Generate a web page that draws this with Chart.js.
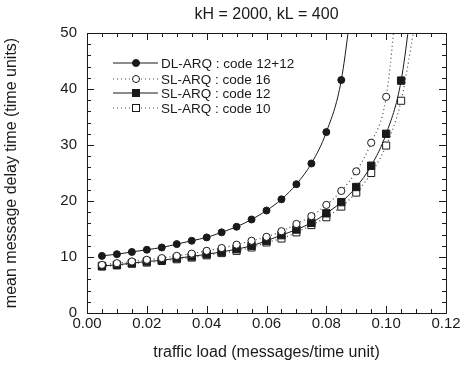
<!DOCTYPE html>
<html>
<head>
<meta charset="utf-8">
<script src="https://cdn.jsdelivr.net/npm/chart.js@4"></script>
<style>
  html, body { margin: 0; padding: 0; background: #fff; }
  #wrap { width: 466px; height: 367px; }
</style>
</head>
<body>
<div id="wrap"><canvas id="myChart" width="466" height="367"></canvas></div>
<script>
const titleText = 'kH = 2000, kL = 400'
const xTitle = 'traffic load (messages/time unit)'
const yTitle = 'mean message delay time (time units)'

// traffic load values (x)
const loadDL = [0.005, 0.01, 0.015, 0.02, 0.025, 0.03, 0.035, 0.04, 0.045, 0.05, 0.055, 0.06, 0.065, 0.07, 0.075, 0.08, 0.085, 0.09]
const loadSL16 = [0.005, 0.01, 0.015, 0.02, 0.025, 0.03, 0.035, 0.04, 0.045, 0.05, 0.055, 0.06, 0.065, 0.07, 0.075, 0.08, 0.085, 0.09, 0.095, 0.10, 0.105]
const loadSL12 = [0.005, 0.01, 0.015, 0.02, 0.025, 0.03, 0.035, 0.04, 0.045, 0.05, 0.055, 0.06, 0.065, 0.07, 0.075, 0.08, 0.085, 0.09, 0.095, 0.10, 0.105, 0.11]
const loadSL10 = [0.005, 0.01, 0.015, 0.02, 0.025, 0.03, 0.035, 0.04, 0.045, 0.05, 0.055, 0.06, 0.065, 0.07, 0.075, 0.08, 0.085, 0.09, 0.095, 0.10, 0.105, 0.11]

// mean delay (y); the last value of each runs off the top of the plot
const delayDL = [10.2, 10.5, 10.9, 11.3, 11.7, 12.3, 12.9, 13.5, 14.4, 15.4, 16.7, 18.3, 20.3, 23.0, 26.7, 32.3, 41.6, 62]
const delaySL16 = [8.6, 8.9, 9.2, 9.5, 9.8, 10.2, 10.6, 11.1, 11.6, 12.2, 12.9, 13.6, 14.6, 15.9, 17.3, 19.3, 21.8, 25.3, 30.4, 38.6, 64]
const delaySL12 = [8.4, 8.6, 8.9, 9.2, 9.4, 9.8, 10.1, 10.5, 10.9, 11.4, 12.0, 12.9, 13.9, 14.9, 16.1, 17.8, 19.8, 22.5, 26.3, 32.0, 41.5, 62]
const delaySL10 = [8.3, 8.5, 8.8, 9.0, 9.3, 9.6, 9.9, 10.3, 10.7, 11.1, 11.7, 12.6, 13.3, 14.4, 15.7, 17.1, 19.0, 21.5, 25.0, 29.9, 37.9, 53]

const seriesNames = ['DL-ARQ : code 12+12', 'SL-ARQ : code 16', 'SL-ARQ : code 12', 'SL-ARQ : code 10']

const xTicks = [0, 0.02, 0.04, 0.06, 0.08, 0.10, 0.12]
const yTicks = [0, 10, 20, 30, 40, 50]

const ink = '#1a1a1a'
const font = "'Liberation Sans', Arial, Helvetica, sans-serif"

function toPoints(xs, ys) {
  return xs.map((x, i) => ({ x: x, y: ys[i] }))
}

// hide markers on the off-scale tail points
const markerSize = (r) => (c) => (c.raw && c.raw.y > 50 ? 0 : r)

const datasets = [
  {
    label: seriesNames[0],
    data: toPoints(loadDL, delayDL),
    borderColor: ink, borderWidth: 1,
    pointStyle: 'circle', pointRadius: markerSize(3.5),
    pointBackgroundColor: ink, pointBorderColor: ink, pointBorderWidth: 1
  },
  {
    label: seriesNames[1],
    data: toPoints(loadSL16, delaySL16),
    borderColor: '#444', borderWidth: 1.2, borderDash: [1, 3],
    pointStyle: 'circle', pointRadius: markerSize(3.6),
    pointBackgroundColor: '#fff', pointBorderColor: ink, pointBorderWidth: 1
  },
  {
    label: seriesNames[2],
    data: toPoints(loadSL12, delaySL12),
    borderColor: ink, borderWidth: 1,
    pointStyle: 'rect', pointRadius: markerSize(5.2),
    pointBackgroundColor: ink, pointBorderColor: ink, pointBorderWidth: 1
  },
  {
    label: seriesNames[3],
    data: toPoints(loadSL10, delaySL10),
    borderColor: '#444', borderWidth: 1.2, borderDash: [1, 3],
    pointStyle: 'rect', pointRadius: markerSize(5),
    pointBackgroundColor: '#fff', pointBorderColor: ink, pointBorderWidth: 1
  }
]

// frame, inward ticks, title and legend
const framePlugin = {
  id: 'frame',
  afterDraw(chart) {
    const c = chart.ctx
    const a = chart.chartArea
    const xs = chart.scales.x
    const ys = chart.scales.y
    c.save()
    c.strokeStyle = ink
    c.lineWidth = 1
    c.strokeRect(a.left + 0.5, a.top + 0.5, a.right - a.left, a.bottom - a.top)

    c.beginPath()
    for (let i = 0; i <= 24; i++) {
      const v = i * 0.005
      const px = Math.round(xs.getPixelForValue(v)) + 0.5
      const len = i % 4 === 0 ? 7 : 4
      c.moveTo(px, a.bottom); c.lineTo(px, a.bottom - len)
      c.moveTo(px, a.top); c.lineTo(px, a.top + len)
    }
    for (let i = 0; i <= 25; i++) {
      const v = i * 2
      const py = Math.round(ys.getPixelForValue(v)) + 0.5
      const len = i % 5 === 0 ? 7 : 4
      c.moveTo(a.left, py); c.lineTo(a.left + len, py)
      c.moveTo(a.right, py); c.lineTo(a.right - len, py)
    }
    c.stroke()

    // title over the plot
    c.fillStyle = ink
    c.font = '16px ' + font
    c.textAlign = 'center'
    c.textBaseline = 'middle'
    c.fillText(titleText, (a.left + a.right) / 2, 15)

    // legend
    const rowY = [63, 79, 93, 108]
    c.font = '13.5px ' + font
    c.textAlign = 'left'
    datasets.forEach((ds, i) => {
      const y = rowY[i]
      c.beginPath()
      c.strokeStyle = ds.borderColor
      c.lineWidth = ds.borderWidth
      c.setLineDash(ds.borderDash || [])
      c.moveTo(113, y); c.lineTo(158, y)
      c.stroke()
      c.setLineDash([])
      c.lineWidth = 1
      c.strokeStyle = ink
      c.fillStyle = ds.pointBackgroundColor
      if (ds.pointStyle === 'circle') {
        c.beginPath(); c.arc(136, y, 3.5, 0, Math.PI * 2); c.fill(); c.stroke()
      } else {
        c.fillRect(132, y - 3.5, 7, 7); c.strokeRect(132.5, y - 3.5, 7, 7)
      }
      c.fillStyle = ink
      c.fillText(ds.label, 161, y + 1)
    })
    c.restore()
  }
}

const ctx = document.getElementById('myChart')

const myChart = new Chart(ctx, {
  type: 'line',
  data: { datasets: datasets },
  options: {
    responsive: false,
    animation: false,
    devicePixelRatio: 1,
    layout: { padding: { top: 33, right: 20, left: 0, bottom: 0 } },
    elements: { line: { cubicInterpolationMode: 'monotone' } },
    plugins: {
      legend: { display: false },
      tooltip: { enabled: false },
      title: { display: false }
    },
    scales: {
      x: {
        type: 'linear',
        min: 0, max: 0.12,
        afterBuildTicks: (s) => { s.ticks = xTicks.map(v => ({ value: v })) },
        afterFit: (s) => { s.height = 54 },
        grid: { display: false, drawTicks: false },
        border: { display: false },
        ticks: {
          color: ink, padding: 2,
          font: { family: font, size: 15 },
          callback: (v) => Number(v).toFixed(2)
        },
        title: {
          display: true, text: xTitle, color: ink,
          font: { family: font, size: 16 },
          padding: { top: 0, bottom: 5 }
        }
      },
      y: {
        min: 0, max: 50,
        afterBuildTicks: (s) => { s.ticks = yTicks.map(v => ({ value: v })) },
        afterFit: (s) => { s.width = 87 },
        grid: { display: false, drawTicks: false },
        border: { display: false },
        ticks: {
          color: ink, padding: 10,
          font: { family: font, size: 15 }
        },
        title: {
          display: true, text: yTitle, color: ink,
          font: { family: font, size: 16 },
          padding: { top: 2, bottom: 0 }
        }
      }
    }
  },
  plugins: [framePlugin]
})
</script>
</body>
</html>
